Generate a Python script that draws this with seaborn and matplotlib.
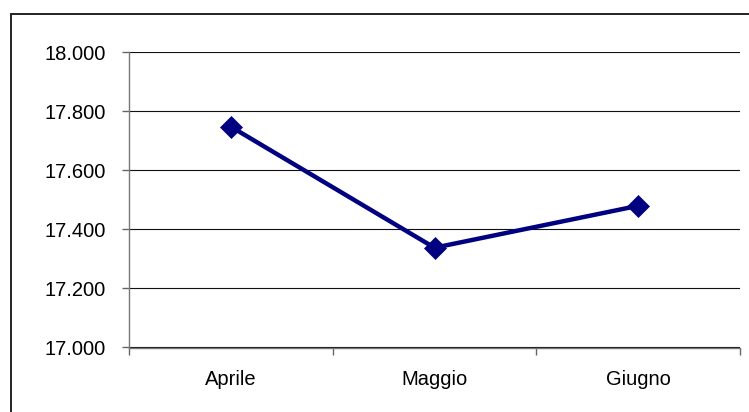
import matplotlib
matplotlib.use("Agg")
import matplotlib.pyplot as plt
from matplotlib.ticker import FixedLocator, FuncFormatter
from matplotlib.patches import Rectangle
import seaborn as sns
import pandas as pd

# Monthly values
months = ["Aprile", "Maggio", "Giugno"]
values = [17748, 17338, 17480]

y_min, y_max, y_step = 17000, 18000, 200

sns.set_theme(style="white")
plt.rcParams["font.family"] = ["Liberation Sans", "DejaVu Sans"]

W, H = 749, 412
fig = plt.figure(figsize=(W / 100, H / 100), dpi=100)
fig.patch.set_facecolor("white")

# Outer frame (left and top edges visible, the rest runs off the canvas)
fig.patches.append(Rectangle((11 / W, -0.1), 1.2, 1 - 14 / H + 0.1,
                             transform=fig.transFigure, fill=False,
                             edgecolor="#222222", linewidth=1.4, zorder=0))

ax = fig.add_axes([129 / W, 1 - 347.5 / H, (740 - 129) / W, (347.5 - 52.3) / H])
ax.set_facecolor("white")

df = pd.DataFrame({"mese": months, "valore": values})
sns.lineplot(data=df, x="mese", y="valore", ax=ax, sort=False,
             color="#000080", linewidth=3.2, marker="D", markersize=10.8,
             markeredgecolor="#000080", markerfacecolor="#000080",
             markeredgewidth=0.5, zorder=5)

ax.set_xlim(-0.5, len(months) - 0.5)
ax.set_ylim(y_min, y_max)

# y axis: gridlines every step, Italian thousands separator
ax.set_yticks(list(range(y_min, y_max + 1, y_step)))
ax.yaxis.set_major_formatter(FuncFormatter(lambda v, p: f"{v:,.0f}".replace(",", ".")))
ax.grid(axis="y", color="#111111", linewidth=0.8)
ax.grid(axis="x", visible=False)

# x axis: labels centred on categories, tick marks on category boundaries
ax.set_xticks(range(len(months)))
ax.set_xticklabels(months)
ax.xaxis.set_minor_locator(FixedLocator([i - 0.5 for i in range(len(months) + 1)]))
ax.tick_params(axis="x", which="major", length=0, pad=16, labelsize=14.5, colors="black")
ax.tick_params(axis="x", which="minor", length=5, width=1, color="#666666", direction="out", bottom=True)
ax.tick_params(axis="y", which="major", length=5, width=1, color="#666666", direction="out",
               left=True, pad=12, labelsize=14.5, labelcolor="black")

for side in ("top", "right"):
    ax.spines[side].set_visible(False)
for side in ("left", "bottom"):
    ax.spines[side].set_visible(True)
    ax.spines[side].set_color("#777777")
    ax.spines[side].set_linewidth(1.0)

ax.set_xlabel("")
ax.set_ylabel("")

fig.savefig("out.png", dpi=100, facecolor="white")
